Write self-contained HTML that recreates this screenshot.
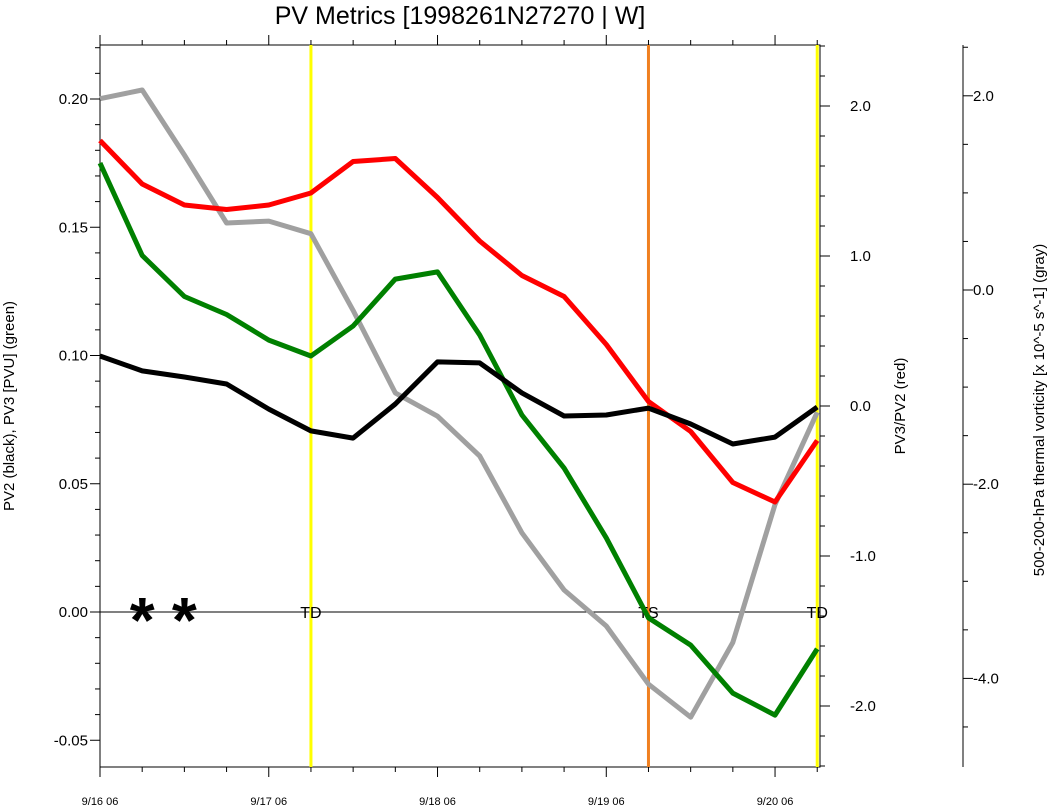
<!DOCTYPE html>
<html><head><meta charset="utf-8"><style>
body{margin:0;background:#fff}
svg{display:block;font-family:"Liberation Sans",sans-serif}
</style></head><body>
<svg id="c" width="1048" height="805">
<text x="460" y="24" font-size="25" text-anchor="middle">PV Metrics [1998261N27270 | W]</text>
<text transform="translate(14,406) rotate(-90)" font-size="15" text-anchor="middle">PV2 (black), PV3 [PVU] (green)</text>
<text transform="translate(905,406) rotate(-90)" font-size="15" text-anchor="middle">PV3/PV2 (red)</text>
<text transform="translate(1044,410) rotate(-90)" font-size="15" text-anchor="middle">500-200-hPa thermal vorticity [x 10^-5 s^-1] (gray)</text>
<g id="g"></g>
</svg>
<script>
const xLabels=["9/16 06","9/17 06","9/18 06","9/19 06","9/20 06"];
const pv2=[0.0998,0.094,0.0916,0.0889,0.0791,0.0706,0.0678,0.0811,0.0975,0.0971,0.0854,0.0764,0.0768,0.0795,0.0733,0.0655,0.0682,0.0799];
const pv3=[0.175,0.139,0.123,0.116,0.106,0.0998,0.1115,0.1298,0.1326,0.108,0.0768,0.0561,0.0289,-0.0023,-0.0129,-0.0316,-0.0402,-0.0144];
const ratio=[1.77,1.48,1.34,1.31,1.34,1.42,1.63,1.65,1.39,1.10,0.87,0.73,0.41,0.03,-0.17,-0.51,-0.64,-0.23];
const vort=[1.97,2.06,1.39,0.69,0.71,0.58,-0.21,-1.06,-1.30,-1.71,-2.50,-3.09,-3.46,-4.06,-4.40,-3.63,-2.21,-1.26];
const leftTicks=[0.20,0.15,0.10,0.05,0.00,-0.05];
const redTicks=[2.0,1.0,0.0,-1.0,-2.0];
const grayTicks=[2.0,0.0,-2.0,-4.0];
const stages=[{i:5,label:"TD",color:"#ffff00"},{i:13,label:"TS",color:"#f08020"},{i:17,label:"TD",color:"#ffff00"}];
const stars=[1,2];
const L=100,R=820,T=45,B=767,step=42.19;
const X=i=>L+i*step;
const YL=v=>612-v*2565;
const YR=v=>406-v*150;
const YG=v=>290-v*97.1;
const g=document.getElementById('g');
const NS="http://www.w3.org/2000/svg";
function mk(t,a,p){const e=document.createElementNS(NS,t);for(const k in a)e.setAttribute(k,a[k]);(p||g).appendChild(e);return e;}
function line(x1,y1,x2,y2,s,w){return mk('line',{x1,y1,x2,y2,stroke:s||'#000','stroke-width':w||1});}
function txt(x,y,s,anchor,size){const e=mk('text',{x,y,'font-size':size||15,'text-anchor':anchor||'middle'});e.textContent=s;return e;}
// frame
const fr=mk('rect',{x:L,y:T,width:R-L,height:B-T,fill:'none',stroke:'#000','stroke-width':1});


// left ticks
for(let v=-0.05;v<=0.2201;v+=0.01){const y=YL(v);const maj=Math.abs(Math.round(v*100)%5)===0;line(L,y,L-(maj?10:5),y);}
leftTicks.forEach(v=>{const t=txt(L-12,YL(v)+5,v.toFixed(2),'end');});
// x ticks
for(let i=0;i<=17;i++){const x=X(i);const maj=i%4===0;line(x,B,x,B+(maj?10:5));line(x,T,x,T-(maj?10:5));}
xLabels.forEach((s,k)=>{const t=txt(X(k*4),B+38,s,'middle',11);});
// red axis ticks
for(let k=-12;k<=12;k++){const v=k*0.2;const y=YR(v);if(y<T||y>B)continue;const maj=k%5===0;line(R,y,R+(maj?10:5),y);}
redTicks.forEach(v=>{const t=txt(R+30,YR(v)+5,v.toFixed(1),'start');});
// gray axis
line(963,T,963,B);
for(let k=-20;k<=10;k++){const v=k*0.5;const y=YG(v);if(y<T||y>B)continue;const maj=k%4===0;line(963,y,963+(maj?10:5),y);}
grayTicks.forEach(v=>{const t=txt(960-70+0,YG(v)+5,v.toFixed(1),'start');t.setAttribute('x',963);t.setAttribute('dx',0);t.setAttribute('text-anchor','start');t.setAttribute('x',963+ (10));});
// zero line
const z=line(L,YL(0),R,YL(0));


// stage lines
stages.forEach(s=>{const l=line(X(s.i),T,X(s.i),B,s.color,3);
const t=txt(X(s.i),YL(0)+6,s.label,'middle',16);});
// series
function series(arr,yf,color,name){const pts=arr.map((v,i)=>X(i).toFixed(1)+','+yf(v).toFixed(1)).join(' ');
const p=mk('polyline',{points:pts,fill:'none',stroke:color,'stroke-width':5,'stroke-linejoin':'round'});

}
series(vort,YG,'#a0a0a0','gray-vorticity-line');
series(pv3,YL,'#008000','green-pv3-line');
series(ratio,YR,'#ff0000','red-ratio-line');
series(pv2,YL,'#000000','black-pv2-line');
stars.forEach(i=>{const t=txt(X(i),YL(0)+30,'*','middle',64);t.setAttribute('font-weight','bold');});
</script>
</body></html>
